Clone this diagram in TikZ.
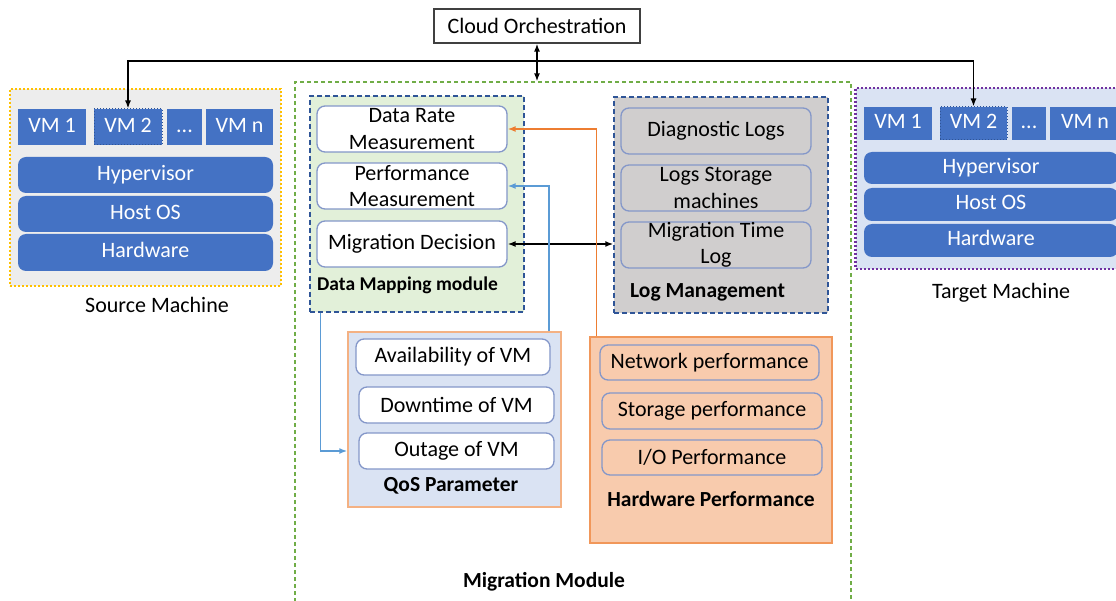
\documentclass[tikz,border=0pt]{standalone}
\usepackage{fontspec}
\setmainfont{Carlito}
\usetikzlibrary{arrows.meta}
\definecolor{b1}{HTML}{4472C4}
\definecolor{b2}{HTML}{2F5597}
\definecolor{b3}{HTML}{DAE3F3}
\definecolor{b4}{HTML}{8497C9}
\definecolor{b5}{HTML}{5B9BD5}
\definecolor{g1}{HTML}{70AD47}
\definecolor{g2}{HTML}{E2F0D9}
\definecolor{o1}{HTML}{ED7D31}
\definecolor{o2}{HTML}{F4B183}
\definecolor{o3}{HTML}{F8CBAD}
\definecolor{y1}{HTML}{FFC000}
\definecolor{v1}{HTML}{7030A0}
\definecolor{s1}{HTML}{EDEDED}
\definecolor{s2}{HTML}{D0CECE}
\tikzset{
  wh/.style 2 args={minimum width=#1pt, minimum height=#2pt},
  txt/.style={font=\fontsize{22}{26.5}\selectfont, align=center, inner sep=0pt},
  lbl/.style={font=\bfseries\fontsize{21.5}{25}\selectfont, inner sep=0pt},
  box/.style={txt, draw=b4, line width=1.3pt, rounded corners=8pt, fill=white},
  vm/.style={txt, fill=b1, text=white, text height=15pt, text depth=4pt},
  layer/.style={vm, rounded corners=8pt},
  frame/.style={line width=1.5pt, dash pattern=on 5pt off 3pt},
  wire/.style={line width=1.5pt}
}

\begin{document}
\begin{tikzpicture}[x=1pt, y=-1pt, >={Latex[length=8pt,width=6pt]}]
\useasboundingbox (0,0) rectangle (1116,601);

\node[txt, draw=black!75, line width=1.2pt, fill=white, wh={206}{34}] (cloud) at (537,26) {Cloud Orchestration};
\coordinate (bus) at (538,61);

% migration module and its parts
\node[draw=g1, line width=1.3pt, dash pattern=on 4pt off 3pt, wh={556}{528}] (mig) at (573,346) {};
\node[lbl] (miglbl) at (544,582) {Migration Module};

\node[frame, draw=b2, fill=g2, wh={214}{216}] (dm) at (417,204) {};
\node[box, wh={190}{46}] (rate) at (412,129) {Data Rate\\Measurement};
\node[box, wh={190}{46}] (perf) at (412,186) {Performance\\Measurement};
\node[box, wh={190}{46}] (dec) at (412,244) {Migration Decision};
\node[lbl, anchor=west, font=\bfseries\fontsize{19.5}{23}\selectfont] (dmlbl) at (317,285) {Data Mapping module};

\node[frame, draw=b2, fill=s2, wh={214}{216}] (logs) at (721,205) {};
\node[box, fill=s2, wh={190}{46}] (diag) at (716,131) {Diagnostic Logs};
\node[box, fill=s2, wh={190}{46}] (store) at (716,188) {Logs Storage\\machines};
\node[box, fill=s2, wh={190}{46}] (mtime) at (716,245) {Migration Time\\Log};
\node[lbl, anchor=west] (loglbl) at (630,292) {Log Management};

\node[draw=o2, line width=1.5pt, fill=b3, wh={213}{175}] (qos) at (454.5,419.5) {};
\node[box, wh={194}{36}] (avail) at (453,357) {Availability of VM};
\node[box, wh={195}{36}] (down) at (456.5,405) {Downtime of VM};
\node[box, wh={195}{36}] (outage) at (456.5,451) {Outage of VM};
\node[lbl] (qoslbl) at (451,486) {QoS Parameter};

\node[draw=o1!80, line width=1.5pt, fill=o3, wh={242}{206}] (hw) at (711,440) {};
\node[box, fill=o3, wh={219}{35}] (net) at (709.5,362.5) {Network performance};
\node[box, fill=o3, wh={220}{36}] (stor) at (712,411) {Storage performance};
\node[box, fill=o3, wh={220}{35}] (io) at (712,457.5) {I/O Performance};
\node[lbl] (hwlbl) at (711,499) {Hardware Performance};

% source machine
\node[draw=y1, fill=s1, line width=2.2pt, dash pattern=on 2pt off 2pt, wh={271}{197}] (src) at (145.5,187.5) {};
\node[vm, wh={68}{36}] (sv1) at (52,127) {VM 1};
\node[vm, draw=b2, dotted, line width=1pt, wh={68}{36}] (sv2) at (128,127) {VM 2};
\node[vm, wh={35}{36}] (svd) at (184.5,127) {...};
\node[vm, wh={67}{36}] (svn) at (239.5,127) {VM n};
\node[layer, wh={255}{36}] (shyp) at (145.5,175) {Hypervisor};
\node[layer, wh={255}{36}] (sos) at (145.5,214) {Host OS};
\node[layer, wh={255}{37}] (shw) at (145.5,252.5) {Hardware};
\node[txt] (srclbl) at (157,305) {Source Machine};

% target machine
\node[draw=v1, fill=b3, line width=2.2pt, dash pattern=on 2pt off 2pt, wh={265}{181}] (tgt) at (988,178.5) {};
\node[vm, wh={68}{33}] (tv1) at (898,123.5) {VM 1};
\node[vm, draw=b2, dotted, line width=1pt, wh={67}{33}] (tv2) at (973.5,123.5) {VM 2};
\node[vm, wh={34}{33}] (tvd) at (1029,123.5) {...};
\node[vm, wh={70}{33}] (tvn) at (1085,123.5) {VM n};
\node[layer, wh={254}{32}] (thyp) at (991,168) {Hypervisor};
\node[layer, wh={254}{33}] (tos) at (991,204.5) {Host OS};
\node[layer, wh={254}{33}] (thw) at (991,240.5) {Hardware};
\node[txt] (tgtlbl) at (1001,293) {Target Machine};

% connectors
\draw[wire, <->] (cloud.south) -- (cloud.south |- mig.north);
\draw[wire, ->] (bus) -| (sv2.north);
\draw[wire, ->] (bus) -| (tv2.north);
\draw[wire, <->] (dec.east) -- (dec.east -| logs.west);
\draw[wire, o1, ->] ([xshift=7pt]hw.north west) |- (rate.east);
\draw[wire, b5, ->] ([xshift=-13pt]qos.north east) |- (perf.east);
\draw[wire, b5, ->] ([xshift=11pt]dm.south west) |- (qos.west |- outage.west);
\end{tikzpicture}
\end{document}
